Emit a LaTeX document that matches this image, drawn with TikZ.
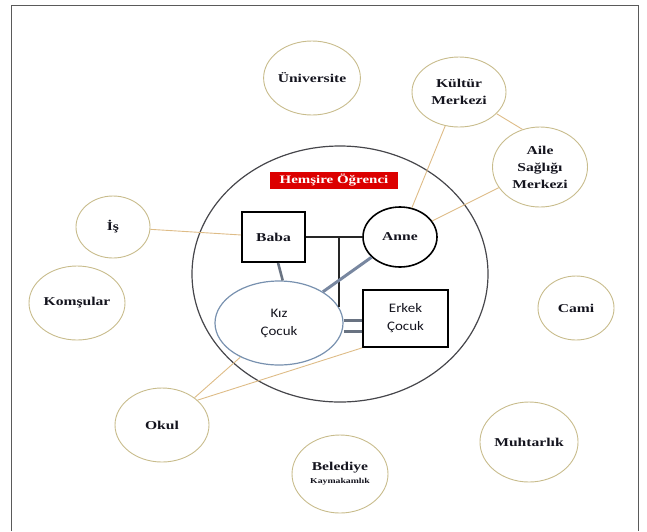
\documentclass[tikz,border=0pt]{standalone}
\usepackage{fontspec}
\usetikzlibrary{shapes.geometric}
\newfontfamily\labfont[FakeStretch=1.3,BoldFeatures={FakeStretch=1.3}]{Liberation Serif}
\newfontfamily\kidfont[FakeStretch=1.15]{Carlito}
\definecolor{circ}{RGB}{200,188,140}
\definecolor{tanc}{RGB}{222,188,135}
\definecolor{bigc}{RGB}{70,70,75}
\definecolor{kizc}{RGB}{120,145,175}
\definecolor{thg}{RGB}{105,115,130}
\definecolor{akc}{RGB}{120,135,160}
\definecolor{redc}{RGB}{220,0,0}
\definecolor{ink}{RGB}{20,20,30}
\definecolor{framec}{RGB}{90,90,90}
\begin{document}
\begin{tikzpicture}[x=1pt,y=-1pt,
  outer/.style={ellipse, draw=circ, line width=0.9pt, inner sep=0pt, align=center,
    font=\labfont\bfseries\fontsize{12}{17}\selectfont, text=ink},
  tanline/.style={draw=tanc, line width=0.9pt},
  famline/.style={draw=black!85, line width=1.1pt},
  thickline/.style={draw=thg, line width=2.6pt},
  aklink/.style={draw=akc, line width=3pt},
  sibline/.style={draw=thg, line width=2.2pt},
  serifb/.style={font=\labfont\bfseries\fontsize{12}{14}\selectfont, text=ink},
  kidtxt/.style={font=\kidfont\fontsize{13}{18}\selectfont, text=ink, align=center}]
\useasboundingbox (0,0) rectangle (647,531);
\draw[framec, line width=0.8pt] (11,531) -- (11,5) -- (638,5) -- (638,531);

% outer circles
\node[outer, minimum width=94, minimum height=74] (uni) at (312,78) {Üniversite};
\node[outer, minimum width=94, minimum height=70] (kultur) at (459,92) {Kültür\\Merkezi};
\node[outer, minimum width=95, minimum height=80] (aile) at (540,167) {Aile\\Sağlığı\\Merkezi};
\node[outer, minimum width=74, minimum height=62] (is) at (113,227) {İş};
\node[outer, minimum width=96, minimum height=74] (komsu) at (77,303) {Komşular};
\node[outer, minimum width=76, minimum height=64] (cami) at (576,308) {Cami};
\node[outer, minimum width=96, minimum height=80] (muhtar) at (529,442) {Muhtarlık};
\node[outer, minimum width=96, minimum height=78] (beled) at (340,474) {Belediye\\[-4pt]{\fontsize{7.5}{9}\selectfont Kaymakamlık}};
\node[outer, minimum width=94, minimum height=74] (okul) at (162,425) {Okul};

% family circle
\node[ellipse, draw=bigc, line width=1.2pt, minimum width=296, minimum height=256, inner sep=0pt] (fam) at (340,274) {};
\node[fill=redc, text=white, font=\labfont\bfseries\fontsize{11.5}{13}\selectfont, minimum width=128, minimum height=17, inner sep=0pt] (hem) at (334,180) {Hemşire Öğrenci};

\node[draw=black, line width=2pt, minimum width=63, minimum height=50, inner sep=0pt, serifb] (baba) at (273.5,237) {Baba};
\node[ellipse, draw=black, line width=1.6pt, minimum width=74, minimum height=60, inner sep=0pt, serifb] (anne) at (400,237) {Anne};
\node[ellipse, draw=kizc, line width=1.2pt, minimum width=128, minimum height=84, inner sep=0pt, kidtxt] (kiz) at (279,323) {Kız\\Çocuk};
\node[draw=black, line width=1.6pt, minimum width=85, minimum height=57, inner sep=0pt, kidtxt] (erkek) at (405.5,318.5) {Erkek\\Çocuk};

% outer connectors
\draw[tanline] (is) -- (baba);
\draw[tanline] (kultur) -- (anne);
\draw[tanline] (aile) -- (anne);
\draw[tanline] (kultur.-30) -- (aile.115);
\draw[tanline] (okul.40) -- (kiz);
\draw[tanline] (okul.35) -- (erkek.south west);

% family connectors
\coordinate (mid) at (339,237);
\draw[famline] (baba) -- (anne);
\draw[famline] (mid) -- (mid |- kiz.15);
\draw[thickline] (baba.-80) -- (kiz.85);
\draw[aklink] (anne) -- (kiz);
\draw[sibline] ([yshift=-2pt]erkek.west) -- ([yshift=-2pt]erkek.west -| kiz.east);
\draw[sibline] ([yshift=-13pt]erkek.west) -- ([yshift=-13pt]erkek.west -| kiz.east);
\end{tikzpicture}
\end{document}
